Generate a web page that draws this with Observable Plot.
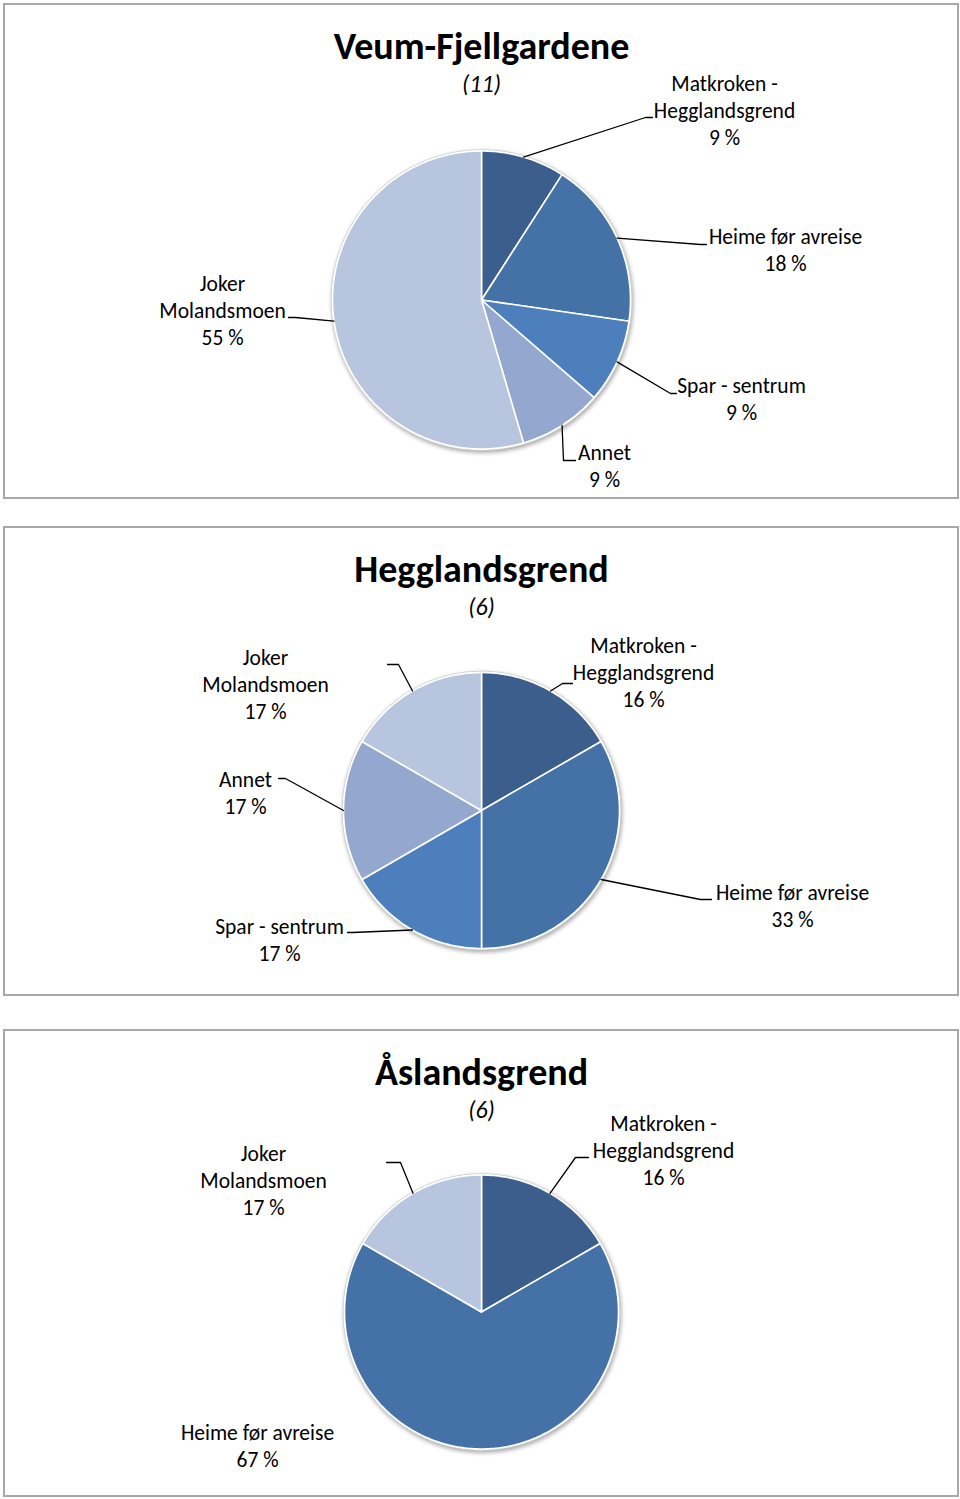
<!DOCTYPE html>
<html><head><meta charset="utf-8">
<script src="https://cdn.jsdelivr.net/npm/d3@7"></script>
<script src="https://cdn.jsdelivr.net/npm/@observablehq/plot@0.6"></script>
<style>
body{margin:0;background:#fff;width:960px;height:1499px;position:relative;overflow:hidden;font-family:Carlito,Calibri,Lato,sans-serif}
.panel{position:absolute;left:3px;width:952px;border:2px solid #a8a8a8;background:#fff}
.panel svg{display:block}
</style></head><body>
<script>
// ---- data ----
const categories = ["Matkroken - Hegglandsgrend", "Heime før avreise", "Spar - sentrum", "Annet", "Joker Molandsmoen"];
const nameLines = [["Matkroken -", "Hegglandsgrend"], ["Heime før avreise"], ["Spar - sentrum"], ["Annet"], ["Joker", "Molandsmoen"]];
const colors = ["#3b5e8c", "#4472a6", "#4c7fbc", "#94a8cf", "#b8c5de"];
const chartTitles = ["Veum-Fjellgardene", "Hegglandsgrend", "Åslandsgrend"];
const veumCounts = [1, 2, 1, 1, 6];
const veumPercent = ["9 %", "18 %", "9 %", "9 %", "55 %"];
const heggCounts = [1, 2, 1, 1, 1];
const heggPercent = ["16 %", "33 %", "17 %", "17 %", "17 %"];
const aslCounts = [1, 4, 0, 0, 1];
const aslPercent = ["16 %", "67 %", "", "", "17 %"];

// ---- layout (page pixel coordinates) ----
const layouts = [
  {top: 3, h: 492, cx: 481, cy: 299.5, r: 149, titleY: 46, subY: 84,
   labels: [
     {x: 724, y: 84, path: [[645, 117], [652, 117]]},
     {x: 785, y: 237, path: [[700, 244], [706, 244]]},
     {x: 741, y: 386, path: [[670, 393], [676, 393]]},
     {x: 604, y: 453, path: [[563, 460], [575, 460]]},
     {x: 222, y: 284, path: [[295, 317], [288, 317]]}
   ]},
  {top: 526, h: 466, cx: 481, cy: 810, r: 138, titleY: 569, subY: 607,
   labels: [
     {x: 643, y: 646, path: [[562, 683], [572, 683]]},
     {x: 792, y: 893, path: [[700, 899], [711, 899]]},
     {x: 279, y: 927, path: [[352, 932], [347, 932]]},
     {x: 245, y: 780, path: [[285, 778], [278, 778]]},
     {x: 265, y: 658, path: [[398, 664], [387, 664]]}
   ]},
  {top: 1029, h: 464, cx: 481, cy: 1311.5, r: 137, titleY: 1072, subY: 1110,
   labels: [
     {x: 663, y: 1124, path: [[575, 1157], [588, 1157]]},
     {x: 257, y: 1433, path: null},
     null,
     null,
     {x: 263, y: 1154, path: [[400, 1162], [386, 1162]]}
   ]}
];

const datasets = [
  {counts: veumCounts, pct: veumPercent},
  {counts: heggCounts, pct: heggPercent},
  {counts: aslCounts, pct: aslPercent}
];

const FONT = "Carlito, Calibri, Lato, sans-serif";

datasets.forEach((ds, k) => {
  const L = layouts[k];
  const innerTop = L.top + 2;
  const n = d3.sum(ds.counts);
  const arcs = d3.pie().sort(null).startAngle(0).endAngle(2 * Math.PI)(ds.counts);
  const px = (a, rr) => L.cx + rr * Math.sin(a);
  const py = (a, rr) => L.cy - rr * Math.cos(a);

  // slice polygons
  const slicePts = [];
  arcs.forEach((a, i) => {
    if (a.value === 0) return;
    slicePts.push({cat: categories[i], x: L.cx, y: L.cy});
    const steps = Math.max(2, Math.ceil((a.endAngle - a.startAngle) / (Math.PI / 180)));
    for (let s = 0; s <= steps; s++) {
      const t = a.startAngle + (a.endAngle - a.startAngle) * s / steps;
      slicePts.push({cat: categories[i], x: px(t, L.r), y: py(t, L.r)});
    }
  });
  // backing disc (for shadow/rim)
  const rim = d3.range(0, 361, 2).map(d => {
    const t = d * Math.PI / 180;
    return {x: px(t, L.r + 1.2), y: py(t, L.r + 1.2)};
  });

  // leaders and label rows
  const leaderPts = [];
  const textRows = [];
  arcs.forEach((a, i) => {
    const lab = L.labels[i];
    if (!lab || a.value === 0) return;
    const mid = (a.startAngle + a.endAngle) / 2;
    if (lab.path) {
      leaderPts.push({id: i, x: px(mid, L.r), y: py(mid, L.r)});
      lab.path.forEach(p => leaderPts.push({id: i, x: p[0], y: p[1]}));
    }
    const lines = [...nameLines[i], ds.pct[i]];
    lines.forEach((t, j) => textRows.push({x: lab.x, y: lab.y + j * 27, text: t}));
  });

  const div = document.createElement("div");
  div.className = "panel";
  div.style.top = L.top + "px";
  div.style.height = L.h + "px";
  document.body.appendChild(div);

  const chart = Plot.plot({
    width: 952, height: L.h,
    margin: 0,
    x: {domain: [5, 957], range: [0, 952], axis: null},
    y: {domain: [innerTop, innerTop + L.h], range: [0, L.h], axis: null},
    color: {domain: categories, range: colors},
    style: {fontFamily: FONT, background: "white", overflow: "visible"},
    marks: [
      Plot.line(rim, {x: "x", y: "y", curve: "linear-closed", fill: "white", stroke: "#d0d0d0", strokeWidth: 1,
        imageFilter: "drop-shadow(1px 2px 2px rgba(0,0,0,0.35))"}),
      Plot.line(slicePts, {x: "x", y: "y", z: "cat", fill: "cat", stroke: "white", strokeWidth: 1.6, curve: "linear-closed", strokeLinejoin: "round"}),
      Plot.line(leaderPts, {x: "x", y: "y", z: "id", stroke: "black", strokeWidth: 1.3}),
      Plot.text(textRows, {x: "x", y: "y", text: "text", fontSize: 21.5, fill: "black", fontFamily: FONT}),
      Plot.text([chartTitles[k]], {x: () => L.cx, y: () => L.titleY, text: d => d, fontSize: 38, fontWeight: "bold", fill: "black", fontFamily: FONT}),
      Plot.text([`(${n})`], {x: () => L.cx, y: () => L.subY, text: d => d, fontSize: 24, fontStyle: "italic", fill: "black", fontFamily: FONT})
    ]
  });
  div.appendChild(chart);
});
</script>
</body></html>
